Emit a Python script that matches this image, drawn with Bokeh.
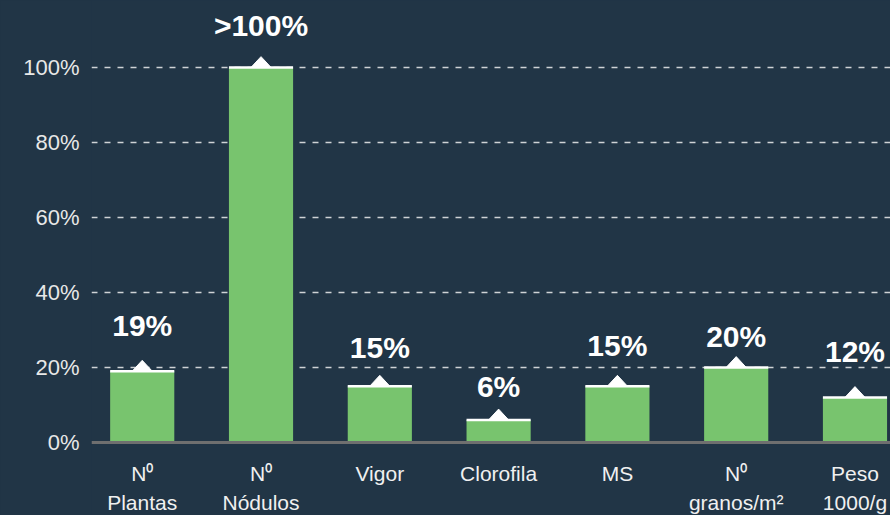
from bokeh.plotting import figure
from bokeh.models import Range1d, FixedTicker, PrintfTickFormatter, Span, ColumnDataSource
from bokeh.core.properties import value
from bokeh.embed import file_html
from bokeh.resources import INLINE

# ---- data ----
categories = ["N\u2070\nPlantas", "N\u2070\nNódulos", "Vigor", "Clorofila", "MS",
              "N\u2070\ngranos/m\u00b2", "Peso\n1000/g"]
values = [19, 100, 15, 6, 15, 20, 12]
value_labels = ["19%", ">100%", "15%", "6%", "15%", "20%", "12%"]
y_ticks = [0, 20, 40, 60, 80, 100]

# ---- style ----
BG = "#213546"
GREEN = "#78c46e"
FONT = "Liberation Sans"
label_offsets = [46, 42, 39, 33, 41, 31, 46]
BAR_W = 0.54
TRI_HW = 0.085
TRI_H = 2.9

xs = list(range(len(categories)))

p = figure(width=890, height=515,
           x_range=Range1d(-0.427, 6.299), y_range=Range1d(-19.47, 117.87),
           output_backend="svg", toolbar_location=None,
           background_fill_color=BG, border_fill_color=BG,
           min_border_left=91, min_border_right=0, min_border_top=0, min_border_bottom=0,
           outline_line_color=None, x_axis_location=None)

# y axis
p.yaxis.ticker = FixedTicker(ticks=y_ticks)
p.yaxis.formatter = PrintfTickFormatter(format="%d%%")
p.yaxis.axis_line_color = None
p.yaxis.major_tick_line_color = None
p.yaxis.minor_tick_line_color = None
p.yaxis.major_tick_out = 0
p.yaxis.major_tick_in = 0
p.yaxis.major_label_text_font = FONT
p.yaxis.major_label_text_font_size = "22px"
p.yaxis.major_label_text_color = "#e8e8e8"
p.yaxis.major_label_standoff = 12

p.xgrid.visible = False
p.ygrid.ticker = FixedTicker(ticks=[t for t in y_ticks if t > 0])
p.ygrid.grid_line_color = "#cfd3d6"
p.ygrid.grid_line_width = 1.5
p.ygrid.grid_line_dash = "6 7"

# bars
p.vbar(x=xs, top=values, bottom=0, width=BAR_W, fill_color=GREEN, line_color=None)

# white top edges
p.segment(x0=[x - BAR_W / 2 for x in xs], x1=[x + BAR_W / 2 for x in xs],
          y0=values, y1=values, line_color="white", line_width=2.5)

# triangles
p.patches(xs=[[x - TRI_HW, x + TRI_HW, x] for x in xs],
          ys=[[v, v, v + TRI_H] for v in values],
          fill_color="white", line_color="white", line_width=1)

# baseline axis line
p.add_layout(Span(location=0, dimension="width", line_color="#6f6f6f", line_width=3))

# value labels
src = ColumnDataSource(dict(x=xs, y=values, t=value_labels, off=[-o for o in label_offsets]))
p.text(x="x", y="y", text="t", y_offset="off", source=src,
       text_align="center", text_baseline="alphabetic",
       text_font=value(FONT), text_font_style="bold", text_font_size="30px",
       text_color="white")

# category labels
p.text(x=xs, y=[0] * len(xs), text=categories, y_offset=20,
       text_align="center", text_baseline="top",
       text_font=value(FONT), text_font_size="21px", text_color="#f0f0f0",
       text_line_height=1.25)

html = file_html(p, INLINE, title="chart")
html = html.replace("</head>", "<style>body{background:%s;}</style></head>" % BG, 1)
open("out.html", "w").write(html)
